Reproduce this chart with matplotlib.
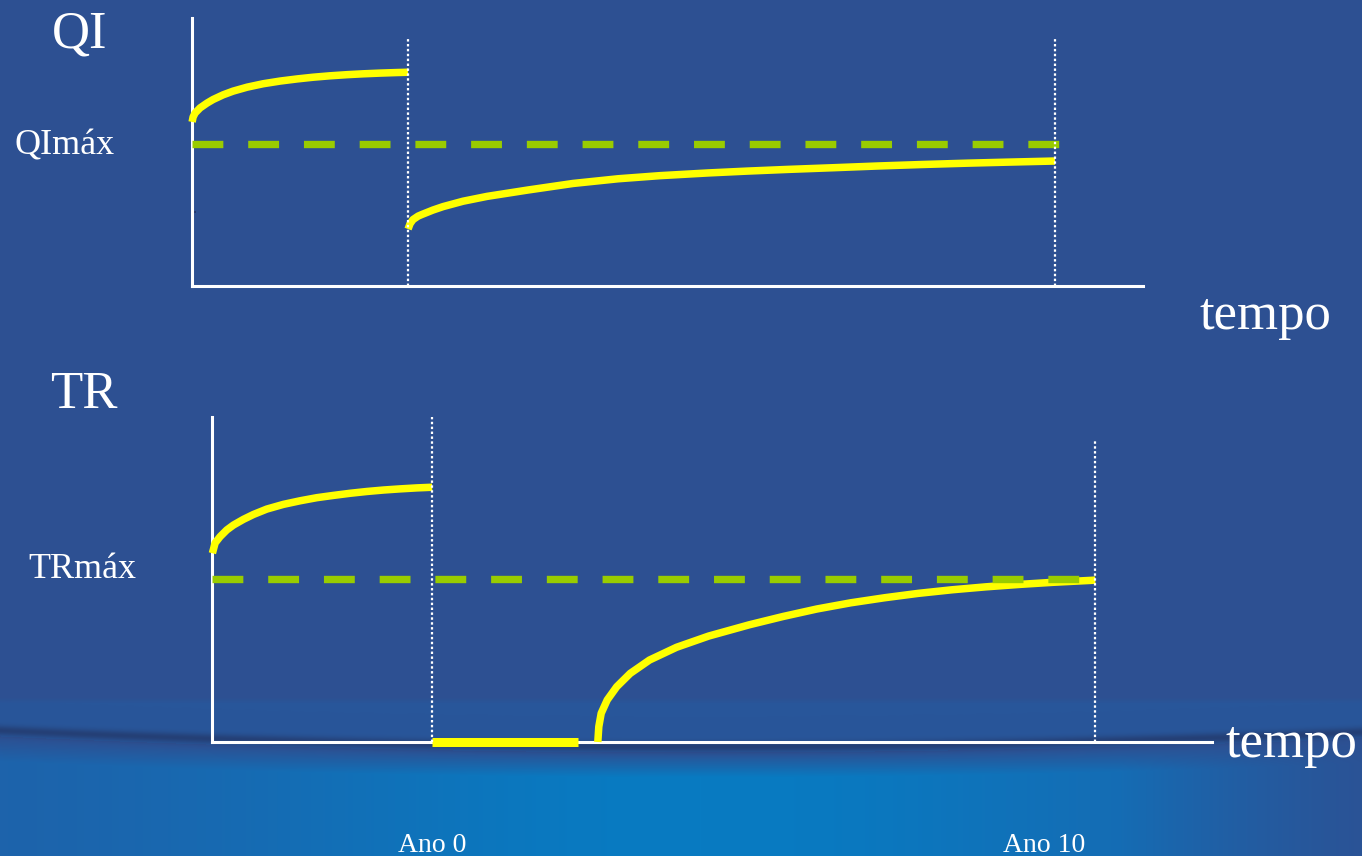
import numpy as np
import matplotlib
matplotlib.use("Agg")
import matplotlib.pyplot as plt

# --- dados (tempo em anos, índices relativos: máximo = 100) ---
# QI
qi_antes_t = [-3.338, -3.323, -3.292, -3.215, -3.107, -3.014, -2.859, -2.705, -2.488,
              -2.241, -1.978, -1.715, -1.468, -1.206, -0.943, -0.696, -0.433, -0.170, 0.0]
qi_antes_v = [115.5, 119.0, 121.8, 125.4, 128.8, 131.3, 134.6, 137.2, 140.0,
              142.4, 144.3, 145.8, 147.0, 148.0, 148.8, 149.4, 149.9, 150.3, 150.5]
qi_depois_t = [0.0, 0.031, 0.077, 0.155, 0.216, 0.386, 0.541, 0.850, 1.221, 1.855, 2.550,
               3.246, 3.895, 4.637, 5.240, 5.873, 6.584, 7.264, 7.913, 8.655, 9.258, 10.0]
qi_depois_v = [40.1, 43.9, 46.8, 49.2, 50.4, 53.5, 55.9, 59.7, 63.1, 67.6, 72.2,
               75.5, 77.7, 79.6, 80.9, 82.1, 83.3, 84.5, 85.5, 86.5, 87.2, 88.0]
qi_max = 100
qi_tick = 52

# TR
tr_antes_t = [-3.314, -3.273, -3.198, -3.097, -2.997, -2.846, -2.695, -2.494, -2.243,
              -1.991, -1.739, -1.488, -1.237, -0.985, -0.734, -0.483, -0.231, 0.0]
tr_antes_v = [115.8, 122.1, 126.0, 130.1, 133.1, 136.6, 139.6, 142.9, 145.8,
              148.0, 149.9, 151.3, 152.6, 153.7, 154.6, 155.3, 155.9, 156.3]
tr_zero_t = [0.0, 2.20]
tr_zero_v = [0, 0]
tr_depois_t = [2.498, 2.513, 2.549, 2.640, 2.783, 2.987, 3.278, 3.685, 4.170, 4.781,
               5.291, 5.801, 6.312, 6.822, 7.332, 7.842, 8.352, 8.861, 9.371, 10.0]
tr_depois_v = [0.0, 9.4, 17.6, 25.8, 33.9, 42.1, 50.3, 58.1, 65.0, 71.9,
               77.0, 81.6, 85.4, 88.5, 91.2, 93.4, 95.2, 96.7, 98.0, 99.3]
tr_max = 100

anos = [0, 10]
rotulos_anos = ["Ano 0", "Ano 10"]

W, H = 1362, 856
AMARELO = "#FFFF00"
VERDE = "#99CC00"
FUNDO = (45 / 255, 80 / 255, 146 / 255)

plt.rcParams["font.family"] = ["Liberation Serif", "DejaVu Serif"]

fig = plt.figure(figsize=(W / 100, H / 100), dpi=100, facecolor=FUNDO)

# === fundo com a onda azul em baixo ===
yy, xx = np.mgrid[0:H, 0:W].astype(float)
img = np.ones((H, W, 3)) * np.array(FUNDO)
onda = 752 - 16 * ((xx - 700) / 700) ** 2
topo_faixa = 697 + 0 * xx
faixa = np.clip((yy - topo_faixa) / 6, 0, 1) * (yy < onda) * 0.5
cor_faixa = np.array([36, 92, 162]) / 255
img = img * (1 - faixa[..., None]) + cor_faixa * faixa[..., None]
abaixo = np.clip((yy - onda) / 25, 0, 1)
brilho = np.exp(-((xx - 700) / 480) ** 2)
cor_clara = np.array([8, 123, 194]) / 255
cor_media = np.array([32, 96, 168]) / 255
baixo = cor_media * (1 - brilho[..., None]) + cor_clara * brilho[..., None]
dir_fade = np.clip((xx - 1120) / 242, 0, 1)
baixo = baixo * (1 - dir_fade[..., None] * 0.85) + np.array(FUNDO) * dir_fade[..., None] * 0.85
img = np.where((yy > onda)[..., None], img * (1 - abaixo[..., None]) + baixo * abaixo[..., None], img)
linha = np.exp(-((yy - onda + 6) / 5) ** 2)
escuro = np.array([36, 60, 112]) / 255
img = img * (1 - linha[..., None] * 0.85) + escuro * linha[..., None] * 0.85

bg = fig.add_axes([0, 0, 1, 1], zorder=-1)
bg.imshow(np.clip(img, 0, 1), aspect="auto", extent=[0, W, H, 0])
bg.axis("off")


def px_axes(esq, topo, dir_, base):
    return fig.add_axes([esq / W, 1 - base / H, (dir_ - esq) / W, (base - topo) / H])


def estilo(ax):
    ax.set_facecolor("none")
    for s in ["top", "right"]:
        ax.spines[s].set_visible(False)
    for s in ["left", "bottom"]:
        ax.spines[s].set_color("white")
        ax.spines[s].set_linewidth(2.2)
    ax.set_xticks([])
    ax.set_yticks([])


linha_amarela = dict(color=AMARELO, lw=5.4, solid_capstyle="butt", solid_joinstyle="round",
                     clip_on=False, zorder=3)
tracejado = dict(color=VERDE, lw=5.3, dashes=(4.19, 3.38), clip_on=False, zorder=4)
pontilhado = dict(color="white", lw=1.6, ls=(0, (1.1, 1.1)), clip_on=False, zorder=5)

# === QI ===
ax1 = px_axes(192, 18, 1143, 286)
estilo(ax1)
ax1.set_xlim(-3.34, 11.36)
ax1.set_ylim(0, 188.7)
ax1.plot(qi_antes_t, qi_antes_v, **linha_amarela)
ax1.plot(qi_depois_t, qi_depois_v, **linha_amarela)
ax1.plot([-3.34, 10.12], [qi_max, qi_max], **tracejado)
for a in anos:
    ax1.plot([a, a], [0, 174.6], **pontilhado)
ax1.set_yticks([qi_tick])
ax1.set_yticklabels([])
ax1.tick_params(axis="y", length=3, width=1.2, color="#1f3366", direction="in")

# === TR ===
ax2 = px_axes(212, 417, 1212, 742)
estilo(ax2)
ax2.set_xlim(-3.32, 11.76)
ax2.set_ylim(0, 199.4)
ax2.plot(tr_antes_t, tr_antes_v, **linha_amarela)
ax2.plot(tr_zero_t, tr_zero_v, color=AMARELO, lw=6.5, solid_capstyle="butt", clip_on=False, zorder=3)
ax2.plot(tr_depois_t, tr_depois_v, **linha_amarela)
ax2.plot([-3.32, 9.95], [tr_max, tr_max], **tracejado)
ax2.plot([anos[0], anos[0]], [0, 199.4], **pontilhado)
ax2.plot([anos[1], anos[1]], [0, 185.3], **pontilhado)


# === textos ===
def texto(x, y, s, tam):
    fig.text(x / W, 1 - y / H, s, color="white", fontsize=tam, ha="left", va="baseline")


texto(52, 47, "QI", 38)
texto(15, 154, "QImáx", 26)
texto(1200, 329, "tempo", 38)
texto(50, 408, "TR", 38)
texto(28, 578, "TRmáx", 26)
texto(1225, 757, "tempo", 38)
texto(398, 852, rotulos_anos[0], 20)
texto(1003, 852, rotulos_anos[1], 20)

fig.savefig("out.png", dpi=100, facecolor=fig.get_facecolor())
